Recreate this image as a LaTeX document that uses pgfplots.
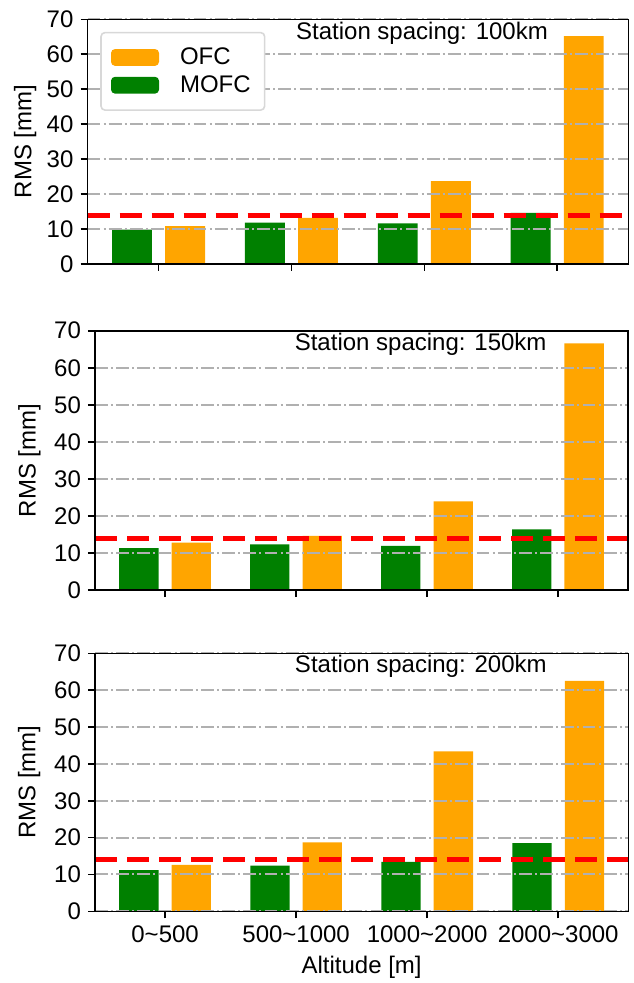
\documentclass[border=0pt]{standalone}
\usepackage{fontspec}
\setmainfont{Liberation Sans}
\usepackage{pgfplots}
\pgfplotsset{compat=1.18}
\definecolor{mgreen}{HTML}{008000}
\definecolor{morange}{HTML}{FFA500}
\definecolor{gridgray}{HTML}{B0B0B0}
\definecolor{legframe}{HTML}{D8D8D8}
\newcommand{\fs}{\fontsize{12}{14}\selectfont}
\pgfplotsset{
  myaxis/.style={
    scale only axis,
    anchor=south west,
    xmin=-0.535, xmax=3.535,
    ymin=0, ymax=70,
    ytick={0,10,...,70},
    xtick={0,1,2,3},
    xtick pos=lower, ytick pos=lower,
    tick align=outside,
    major tick length=3.5pt,
    axis line style={line width=0.8pt},
    every tick/.style={black, line width=0.8pt},
    ymajorgrids,
    grid style={gridgray, line width=1pt, dash pattern=on 6.4pt off 1.6pt on 1pt off 1.6pt},
    tick label style={font=\fs},
    label style={font=\fs},
    /pgf/number format/assume math mode=true,
    ylabel={RMS [mm]},
    axis on top,
  },
  ofc/.style={ybar, bar width=0.3, bar shift=0.2, fill=morange, draw=none},
  mofc/.style={ybar, bar width=0.3, bar shift=-0.2, fill=mgreen, draw=none},
  thr/.style={red, line width=2.5pt, dash pattern=on 11pt off 5pt, forget plot},
}
\begin{document}
\begin{tikzpicture}
\useasboundingbox (0,0) rectangle (316.5pt,-491.5pt);

% Panel 1: 100 km
\begin{axis}[myaxis,
  at={(43.75pt,-132pt)}, width=270.4pt, height=122.35pt,
  xticklabels={,,,},
  ylabel style={at={(axis description cs:-0.1036,0.5)}, anchor=base},
  legend cell align=left,
  legend image code/.code={\fill[#1] (0pt,-4.2pt) rectangle (24pt,4.2pt);},
  legend style={at={(axis description cs:0.0235,0.949)}, anchor=north west,
    draw=legframe, line width=0.8pt, rounded corners=2pt, fill=white,
    font=\fs, inner xsep=5pt, inner ysep=5.5pt, row sep=0pt, column sep=8.5pt},
]
\addplot[ofc] coordinates {(0,10.8) (1,13.2) (2,23.7) (3,65.2)};
\addlegendentry{OFC}
\addplot[mofc] coordinates {(0,9.85) (1,11.85) (2,11.6) (3,14.6)};
\addlegendentry{MOFC}
\addplot[thr] coordinates {(-0.535,14) (3.535,14)};
\node[anchor=base, font=\fs] at (axis description cs:0.6185,1) [yshift=-10.1pt] {Station spacing: 100km};
\end{axis}

% Panel 2: 150 km
\begin{axis}[myaxis,
  at={(47.5pt,-295pt)}, width=266.5pt, height=129.65pt,
  xticklabels={,,,},
  ylabel style={at={(axis description cs:-0.1116,0.5)}, anchor=base},
]
\addplot[ofc] coordinates {(0,12.8) (1,14.6) (2,23.9) (3,66.6)};
\addplot[mofc] coordinates {(0,11.3) (1,12.3) (2,11.9) (3,16.4)};
\addplot[thr] coordinates {(-0.535,14) (3.535,14)};
\node[anchor=base, font=\fs] at (axis description cs:0.611,1) [yshift=-9.7pt] {Station spacing: 150km};
\end{axis}

% Panel 3: 200 km
\begin{axis}[myaxis,
  at={(47.5pt,-455.65pt)}, width=266.65pt, height=129pt,
  xticklabels={0\textasciitilde500, 500\textasciitilde1000, 1000\textasciitilde2000, 2000\textasciitilde3000},
  xlabel={Altitude [m]},
  ylabel style={at={(axis description cs:-0.1116,0.5)}, anchor=base},
]
\addplot[ofc] coordinates {(0,12.6) (1,18.7) (2,43.4) (3,62.5)};
\addplot[mofc] coordinates {(0,11.2) (1,12.4) (2,13.4) (3,18.5)};
\addplot[thr] coordinates {(-0.535,14) (3.535,14)};
\node[anchor=base, font=\fs] at (axis description cs:0.611,1) [yshift=-9.7pt] {Station spacing: 200km};
\end{axis}
\end{tikzpicture}
\end{document}
